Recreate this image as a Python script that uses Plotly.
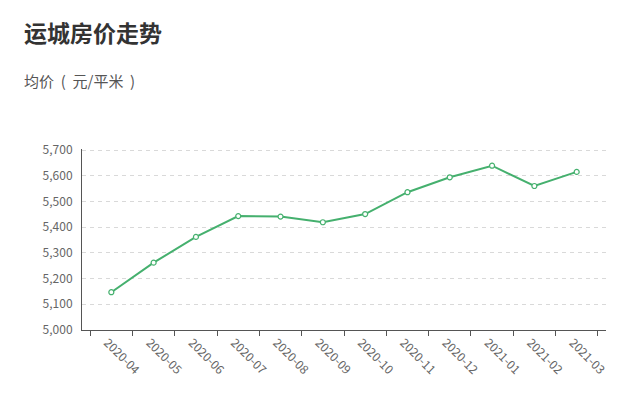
import plotly.graph_objects as go

months = ["2020-04", "2020-05", "2020-06", "2020-07", "2020-08", "2020-09",
          "2020-10", "2020-11", "2020-12", "2021-01", "2021-02", "2021-03"]
prices = [5147, 5262, 5362, 5443, 5441, 5419, 5451, 5536, 5594, 5639, 5560, 5615]

# page has an 8px body margin, so the figure is offset by 8px
OFF = 8
W, H = 641 - OFF, 401 - OFF
l, r, t, b = 82 - OFF, 35, 150 - OFF - 1, 71
pw, ph = W - l - r, H - t - b


def px(x):
    return (x - OFF - l) / pw


def py(y):
    return 1 - (y - OFF - t) / ph


fig = go.Figure()
fig.add_trace(go.Scatter(
    x=months, y=prices, mode="lines+markers",
    line=dict(color="#45b06e", width=2),
    marker=dict(size=5, color="white", line=dict(color="#45b06e", width=1.2)),
    hoverinfo="x+y",
))

fig.update_layout(
    width=W, height=H,
    margin=dict(l=l, r=r, t=t, b=b),
    paper_bgcolor="white", plot_bgcolor="white",
    font=dict(family="Noto Sans CJK SC, Noto Sans, sans-serif", color="#666"),
    showlegend=False,
    annotations=[
        dict(text="<b>运城房价走势</b>", x=px(22), y=py(32), xref="paper", yref="paper",
             showarrow=False, xanchor="left", yanchor="middle",
             font=dict(size=23, color="#333")),
        dict(text="均价&nbsp; (&nbsp; 元/平米&nbsp; )", x=px(22), y=py(80),
             xref="paper", yref="paper",
             showarrow=False, xanchor="left", yanchor="middle",
             font=dict(size=15, color="#555")),
    ],
)

fig.update_xaxes(
    type="category", tickson="boundaries",
    showline=True, linecolor="#555", linewidth=1,
    ticks="outside", ticklen=5, tickcolor="#555",
    showgrid=False, tickangle=45, ticklabelshift=-4,
    tickfont=dict(size=12, color="#666"),
)
fig.update_yaxes(
    range=[5000, 5704], dtick=100, tickformat=",d",
    showline=True, linecolor="#555", linewidth=1,
    showgrid=True, gridcolor="#d9d9d9", griddash="4px,4px", gridwidth=1,
    zeroline=False, ticks="", ticklabelstandoff=6,
    tickfont=dict(size=12, color="#666"),
)

fig.write_html("out.html")
